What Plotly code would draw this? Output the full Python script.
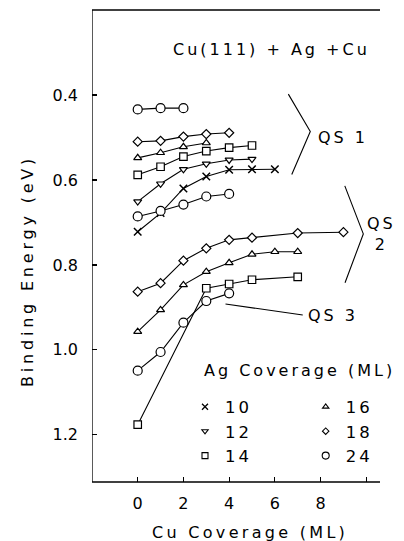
import plotly.graph_objects as go

# ---------------- data ----------------
ag_coverages = ["10", "12", "14", "16", "18", "24"]

# Ag 10 ML (x)
x_10 = [0, 1, 2, 3, 4, 5, 6]
y_10 = [0.722, 0.678, 0.620, 0.592, 0.576, 0.575, 0.575]

# Ag 12 ML (triangle down)
x_12 = [0, 1, 2, 3, 4, 5]
y_12 = [0.651, 0.609, 0.575, 0.562, 0.553, 0.551]

# Ag 14 ML (square) - QS1 and QS2/3 branches
x_14_a = [0, 1, 2, 3, 4, 5]
y_14_a = [0.588, 0.569, 0.545, 0.532, 0.524, 0.519]
x_14_b = [0, 3, 4, 5, 7]
y_14_b = [1.176, 0.855, 0.845, 0.835, 0.828]

# Ag 16 ML (triangle up)
x_16_a = [0, 1, 2, 3]
y_16_a = [0.548, 0.536, 0.522, 0.513]
x_16_b = [0, 1, 2, 3, 4, 5, 6, 7]
y_16_b = [0.957, 0.906, 0.847, 0.816, 0.795, 0.775, 0.769, 0.769]

# Ag 18 ML (diamond)
x_18_a = [0, 1, 2, 3, 4]
y_18_a = [0.510, 0.508, 0.498, 0.492, 0.489]
x_18_b = [0, 1, 2, 3, 4, 5, 7, 9]
y_18_b = [0.863, 0.843, 0.790, 0.761, 0.741, 0.736, 0.725, 0.723]

# Ag 24 ML (circle)
x_24_a = [0, 1, 2]
y_24_a = [0.434, 0.431, 0.431]
x_24_b = [0, 1, 2, 3, 4]
y_24_b = [0.686, 0.673, 0.658, 0.639, 0.633]
x_24_c = [0, 1, 2, 3, 4]
y_24_c = [1.049, 1.005, 0.936, 0.885, 0.867]

x_tick_vals = [0, 2, 4, 6, 8, 10]
x_tick_text = ["0", "2", "4", "6", "8", ""]
y_tick_vals = [0.4, 0.6, 0.8, 1.0, 1.2]
y_tick_text = ["0.4", "0.6", "0.8", "1.0", "1.2"]

# axis frame extent (data coords)
x_axis_start, x_axis_end = -2, 10.6

# annotation geometry (data coords)
qs1_bracket_x = [6.59, 7.55, 6.74]
qs1_bracket_y = [0.398, 0.486, 0.587]
qs2_bracket_x = [9.06, 9.87, 9.07]
qs2_bracket_y = [0.614, 0.727, 0.842]
qs3_line_x = [3.84, 7.22]
qs3_line_y = [0.892, 0.918]

FONT = "DejaVu Sans"
LS = 3  # letter spacing px


def sp(t, ls=LS):
    return f'<span style="letter-spacing:{ls}px">{t}</span>'


def join(*parts):
    xs, ys = [], []
    for i, (xx, yy) in enumerate(parts):
        if i:
            xs.append(None)
            ys.append(None)
        xs += xx
        ys += yy
    return xs, ys


series = [
    ("10", join((x_10, y_10)), "x-thin", 7.5),
    ("12", join((x_12, y_12)), "triangle-down", 7),
    ("14", join((x_14_a, y_14_a), (x_14_b, y_14_b)), "square", 7.5),
    ("16", join((x_16_a, y_16_a), (x_16_b, y_16_b)), "triangle-up", 7),
    ("18", join((x_18_a, y_18_a), (x_18_b, y_18_b)), "diamond", 7),
    ("24", join((x_24_a, y_24_a), (x_24_b, y_24_b), (x_24_c, y_24_c)), "circle", 9),
]

fig = go.Figure()
for name, (xs, ys), sym, size in series:
    fig.add_trace(go.Scatter(
        x=xs, y=ys, mode="lines+markers", connectgaps=False,
        line=dict(color="black", width=1.1),
        marker=dict(symbol=sym, size=size, color="white",
                    line=dict(color="black", width=1.5 if sym == "x-thin" else 1.2)),
        showlegend=False, name=name,
    ))

legend_sizes = {"x-thin": 6, "triangle-down": 5.5, "square": 6, "triangle-up": 5.5,
                "diamond": 5, "circle": 7}
for i, (name, _, sym, size) in enumerate(series):
    fig.add_trace(go.Scatter(
        x=[None], y=[None], mode="markers", name=sp(name),
        marker=dict(symbol=sym, size=legend_sizes[sym], color="white",
                    line=dict(color="black", width=1.3 if sym == "x-thin" else 1.1)),
        legend="legend" if i < 3 else "legend2",
    ))

# bracket / pointer lines
for bx, by in [(qs1_bracket_x, qs1_bracket_y), (qs2_bracket_x, qs2_bracket_y),
               (qs3_line_x, qs3_line_y)]:
    fig.add_trace(go.Scatter(x=bx, y=by, mode="lines", showlegend=False,
                             line=dict(color="black", width=1.1), hoverinfo="skip"))

ann_font = dict(family=FONT, size=16, color="black")
annotations = [
    dict(x=10.27, y=0.292, text=sp("Cu(111) + Ag +Cu"), xanchor="right", yanchor="middle"),
    dict(x=7.80, y=0.500, text=sp("QS 1"), xanchor="left", yanchor="middle"),
    dict(x=9.95, y=0.727, text=sp("QS") + "<br>" + sp("2"), xanchor="left", yanchor="middle",
         align="center"),
    dict(x=7.36, y=0.920, text=sp("QS 3"), xanchor="left", yanchor="middle"),
    dict(x=2.80, y=1.049, text=sp("Ag Coverage (ML)"), xanchor="left", yanchor="middle"),
]
for a in annotations:
    a.update(xref="x", yref="y", showarrow=False, font=ann_font)

# axis titles (paper coords; plot area now spans 92..392 px)
W_PLOT = 404 - 92 - 12
annotations += [
    dict(xref="paper", yref="paper", x=(250 - 92) / W_PLOT, y=-0.106,
         text=sp("Cu Coverage (ML)", 3.3),
         showarrow=False, xanchor="center", yanchor="middle", font=ann_font),
    dict(xref="paper", yref="paper", x=(27 - 92) / W_PLOT, y=0.447,
         text=sp("Binding Energy (eV)", 3.8),
         showarrow=False, xanchor="center", yanchor="middle", textangle=-90, font=ann_font),
]

axis_common = dict(showgrid=False, zeroline=False, showline=False,
                   ticks="inside", ticklen=5, tickcolor="black",
                   tickwidth=1.2, tickfont=dict(family=FONT, size=16, color="black"))

frame = dict(color="black", width=1.3)
x_range_end = x_axis_end + 12 / (288 / 12.6)   # extra room so the plot edge sits past the frame
fig.update_layout(
    width=404, height=541,
    margin=dict(l=92, r=12, t=10, b=59),
    paper_bgcolor="white", plot_bgcolor="white",
    font=dict(family=FONT, size=16, color="black"),
    xaxis=dict(range=[x_axis_start, x_range_end], tickvals=x_tick_vals, ticktext=x_tick_text,
               ticklabelstandoff=10, **axis_common),
    yaxis=dict(range=[1.311, 0.2], tickvals=y_tick_vals, ticktext=y_tick_text,
               ticklabelstandoff=13, **axis_common),
    shapes=[
        dict(type="line", xref="x", yref="paper", x0=x_axis_start, x1=x_axis_end, y0=1, y1=1,
             line=frame),
        dict(type="line", xref="x", yref="paper", x0=x_axis_start, x1=x_axis_end, y0=0, y1=0,
             line=frame),
        dict(type="line", xref="x", yref="paper", x0=x_axis_start, x1=x_axis_start, y0=0, y1=1,
             line=frame),
    ],
    legend=dict(x=(185 - 92) / W_PLOT, y=0.196, xanchor="left", yanchor="top",
                bgcolor="rgba(0,0,0,0)", font=dict(family=FONT, size=16.5),
                itemsizing="trace", tracegroupgap=0),
    legend2=dict(x=(305.7 - 92) / W_PLOT, y=0.196, xanchor="left", yanchor="top",
                 bgcolor="rgba(0,0,0,0)", font=dict(family=FONT, size=16.5),
                 itemsizing="trace", tracegroupgap=0),
    annotations=annotations,
)

fig.write_html("out.html", config={"staticPlot": True})
